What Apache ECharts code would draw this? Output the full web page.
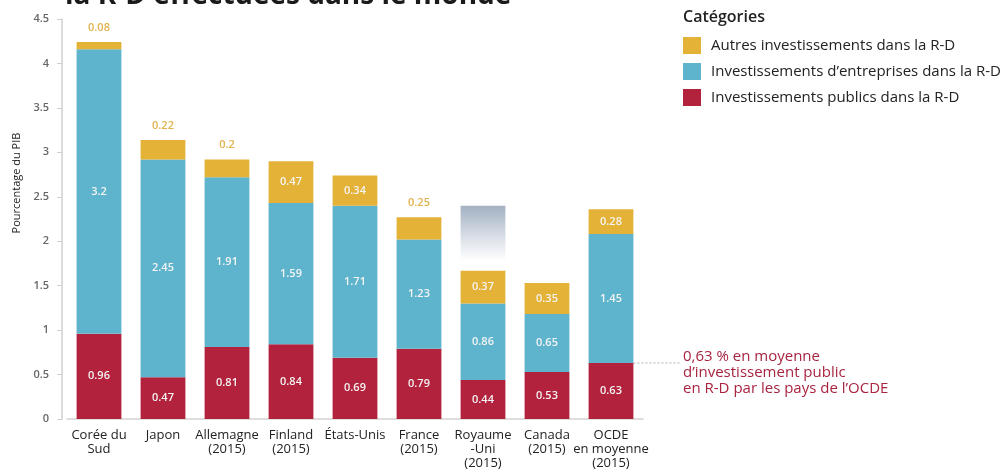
<!DOCTYPE html>
<html>
<head>
<meta charset="utf-8">
<script src="https://cdn.jsdelivr.net/npm/echarts@6/dist/echarts.min.js"></script>
<style>
html,body{margin:0;padding:0;background:#fff;}
#chart{width:1004px;height:473px;}
</style>
</head>
<body>
<div id="chart"></div>
<script>
const categories = ['Corée du\nSud','Japon','Allemagne\n(2015)','Finland\n(2015)','États-Unis','France\n(2015)','Royaume\n-Uni\n(2015)','Canada\n(2015)','OCDE\nen moyenne\n(2015)'];
const publicInv   = [0.96, 0.47, 0.81, 0.84, 0.69, 0.79, 0.44, 0.53, 0.63];
const businessInv = [3.2, 2.45, 1.91, 1.59, 1.71, 1.23, 0.86, 0.65, 1.45];
const otherInv    = [0.08, 0.22, 0.2, 0.47, 0.34, 0.25, 0.37, 0.35, 0.28];
const fadedTop    = [null, null, null, null, null, null, 0.73, null, null];
const seriesNames = ['Autres investissements dans la R-D', 'Investissements d\u2019entreprises dans la R-D', 'Investissements publics dans la R-D'];
const oecdAverage = 0.63;
const annotationLines = ['0,63 % en moyenne', 'd\u2019investissement public', 'en R-D par les pays de l\u2019OCDE'];
const titleText = 'la R-D effectuées dans le monde';
const legendTitle = 'Catégories';
const yAxisTitle = 'Pourcentage du PIB';

const FONT = '"Open Sans", "DejaVu Sans", sans-serif';
const YELLOW = '#E5B238', BLUE = '#5FB4CD', RED = '#B2223D';

const chart = echarts.init(document.getElementById('chart'), null, {renderer: 'canvas'});

const insideLabel = {show: true, position: 'inside', color: '#f4f4f4', fontSize: 11, fontFamily: FONT, fontWeight: 600};

const otherData = otherInv.map(v => {
  const outside = v < 0.26;
  return {
    value: v,
    label: outside
      ? {show: true, position: 'top', distance: 9, color: '#E2B24C', fontSize: 11, fontFamily: FONT, fontWeight: 600}
      : insideLabel
  };
});

const option = {
  animation: false,
  backgroundColor: '#fff',
  textStyle: {fontFamily: FONT},
  grid: {left: 67, right: 361, top: 19, bottom: 54},
  legend: {
    orient: 'vertical', left: 683, top: 37, padding: 0,
    itemWidth: 18, itemHeight: 17, itemGap: 9, icon: 'rect',
    data: seriesNames,
    textStyle: {fontSize: 15, color: '#222', fontFamily: FONT, padding: [0, 0, 0, 5]}
  },
  xAxis: {
    type: 'category', data: categories,
    axisLine: {show: true, lineStyle: {color: '#d4d4d4', width: 1.5}},
    axisTick: {show: false},
    axisLabel: {color: '#222', fontSize: 13, fontFamily: FONT, lineHeight: 14, margin: 9, interval: 0}
  },
  yAxis: {
    type: 'value', min: 0, max: 4.5, interval: 0.5, offset: 5,
    axisLine: {show: true, lineStyle: {color: '#cfcfcf', width: 1.5}},
    axisTick: {show: true, length: 5, lineStyle: {color: '#cfcfcf'}},
    axisLabel: {color: '#666', fontSize: 11, fontFamily: FONT, fontWeight: 600, margin: 13},
    splitLine: {show: false}
  },
  series: [
    {name: seriesNames[2], type: 'bar', stack: 'rd', barWidth: '70%', data: publicInv,
     itemStyle: {color: RED}, label: insideLabel},
    {name: seriesNames[1], type: 'bar', stack: 'rd', data: businessInv,
     itemStyle: {color: BLUE}, label: insideLabel},
    {name: seriesNames[0], type: 'bar', stack: 'rd', data: otherData,
     itemStyle: {color: YELLOW}},
    {name: 'faded', type: 'bar', stack: 'rd', data: fadedTop, silent: true,
     itemStyle: {color: new echarts.graphic.LinearGradient(0, 0, 0, 1, [
       {offset: 0, color: '#a3b1c2'}, {offset: 0.5, color: '#dbe1e8'}, {offset: 0.85, color: '#ffffff'}, {offset: 1, color: '#ffffff'}
     ])}}
  ]
};
chart.setOption(option);

// Annotation positioned through the chart's own scales
const pCenter = chart.convertToPixel({xAxisIndex: 0, yAxisIndex: 0}, [categories.length - 1, oecdAverage]);
const pPrev = chart.convertToPixel({xAxisIndex: 0, yAxisIndex: 0}, [categories.length - 2, oecdAverage]);
const band = pCenter[0] - pPrev[0];
const lineStart = pCenter[0] + band * 0.35;
const lineEnd = 681;

chart.setOption({
  graphic: [
    {type: 'text', left: 65, top: -18, silent: true,
     style: {text: titleText, fill: '#1a1a1a', font: 'bold 28px ' + FONT}},
    {type: 'text', left: 683, top: 9, silent: true,
     style: {text: legendTitle, fill: '#222', font: '600 16px ' + FONT}},
    {type: 'text', x: 17, y: 183, rotation: Math.PI / 2, silent: true,
     style: {text: yAxisTitle, fill: '#222', font: '11px ' + FONT, align: 'center', verticalAlign: 'middle'}},
    {type: 'line', silent: true,
     shape: {x1: lineStart, y1: pCenter[1], x2: lineEnd, y2: pCenter[1]},
     style: {stroke: '#c9c9c9', lineWidth: 1.5, lineDash: [2, 2]}},
    {type: 'text', left: 683, top: pCenter[1] - 14, silent: true,
     style: {text: annotationLines.join('\n'), fill: '#A8243F', font: '15px ' + FONT, lineHeight: 16}}
  ]
});
</script>
</body>
</html>
